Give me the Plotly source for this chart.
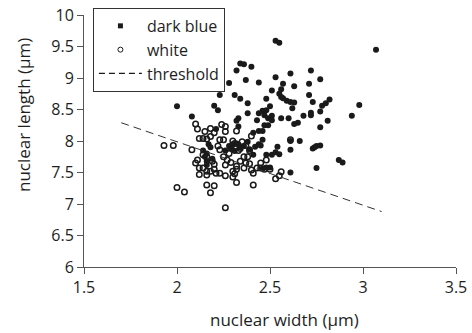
import plotly.graph_objects as go

# dark blue nuclei (filled)
dark_x = [2.00, 2.08, 2.53, 2.55, 3.07, 2.34, 2.36, 2.40, 2.32, 2.37, 2.44, 2.28,
          2.31, 2.23, 2.34, 2.38, 2.20, 2.22, 2.33, 2.32, 2.33, 2.21,
          2.48, 2.51, 2.53, 2.56, 2.57, 2.61, 2.63, 2.72, 2.77, 2.71, 2.71, 2.73,
          2.78, 2.80, 2.82, 2.77, 2.72, 2.72, 2.68, 2.65, 2.63, 2.81, 2.77, 2.98, 2.94,
          2.59, 2.61, 2.63, 2.48, 2.46, 2.50, 2.51, 2.47, 2.49, 2.56, 2.60, 2.44, 2.43,
          2.38, 2.44, 2.41, 2.46, 2.46, 2.30, 2.32, 2.28, 2.33, 2.38, 2.44, 2.45, 2.42,
          2.41, 2.48, 2.51, 2.53, 2.55, 2.54, 2.61, 2.61, 2.66, 2.73, 2.74, 2.75, 2.77,
          2.61, 2.75, 2.87, 2.89, 2.46, 2.48, 2.50,
          2.17, 2.14, 2.16, 2.15, 2.16, 2.16, 2.18, 2.19,
          2.26, 2.29, 2.31, 2.34, 2.36, 2.39, 2.47, 2.49, 2.51, 2.55, 2.56, 2.57, 2.62]
dark_y = [8.55, 8.39, 9.59, 9.56, 9.45, 9.23, 9.22, 9.18, 9.12, 8.97, 8.93, 8.92,
          8.73, 8.73, 8.67, 8.60, 8.56, 8.49, 8.36, 8.32, 8.23, 8.19,
          8.67, 8.80, 9.01, 8.82, 8.91, 9.07, 8.87, 9.12, 8.98, 8.91, 8.73, 8.62,
          8.56, 8.60, 8.66, 8.47, 8.45, 8.41, 8.40, 8.29, 8.27, 8.32, 8.22, 8.57, 8.40,
          8.64, 8.62, 8.61, 8.49, 8.48, 8.55, 8.40, 8.25, 8.25, 8.36, 8.36, 8.44, 8.33,
          8.44, 8.16, 8.13, 8.16, 8.02, 7.95, 7.96, 7.92, 7.95, 7.99, 7.95, 7.93, 7.91,
          7.78, 7.78, 7.78, 7.82, 7.79, 7.91, 7.86, 8.00, 8.00, 7.88, 7.90, 7.92, 7.93,
          7.50, 7.57, 7.70, 7.66, 7.56, 7.58, 7.58,
          7.95, 7.85, 7.80, 7.75, 7.68, 7.62, 7.90, 7.72,
          7.85, 7.88, 7.84, 7.90, 7.92, 7.87, 8.41, 8.36, 8.33, 8.75, 8.70, 8.68, 8.52]

# white nuclei (open)
white_x = [1.93, 1.98, 2.08, 2.00, 2.04, 2.26,
           2.10, 2.11, 2.12, 2.14, 2.16, 2.18,
           2.24, 2.26, 2.26, 2.23, 2.25, 2.32, 2.40, 2.61, 2.18, 2.20, 2.15,
           2.11, 2.10, 2.12, 2.14, 2.12, 2.16, 2.16, 2.20, 2.18, 2.32, 2.41,
           2.21, 2.23, 2.26, 2.30, 2.31, 2.30, 2.32, 2.32, 2.27, 2.26, 2.36, 2.37,
           2.39, 2.40, 2.41, 2.43, 2.45, 2.53, 2.56, 2.55,
           2.32, 2.33, 2.34, 2.35, 2.37, 2.30, 2.31, 2.39, 2.36, 2.38, 2.22, 2.23,
           2.14, 2.16, 2.20, 2.19, 2.16, 2.18, 2.45, 2.48, 2.28, 2.25, 2.20, 2.47,
           2.50, 2.34, 2.29]
white_y = [7.93, 7.93, 7.86, 7.26, 7.19, 6.94,
           8.27, 8.19, 8.04, 8.04, 8.03, 8.07,
           8.26, 8.23, 8.15, 8.02, 8.02, 8.16, 8.08, 8.02, 8.20, 8.13, 8.15,
           7.70, 7.65, 7.57, 7.57, 7.47, 7.46, 7.30, 7.29, 7.18, 7.34, 7.30,
           7.49, 7.49, 7.45, 7.52, 7.48, 7.43, 7.60, 7.55, 7.70, 7.62, 7.57, 7.65,
           7.64, 7.54, 7.49, 7.57, 7.57, 7.40, 7.51, 7.45,
           7.90, 7.85, 7.88, 7.99, 7.93, 8.00, 7.96, 7.85, 7.75, 7.75, 7.92, 7.86,
           7.78, 7.75, 7.63, 7.68, 7.52, 7.52, 7.65, 7.70, 7.80, 7.75, 7.55, 7.55,
           7.55, 7.68, 7.66]

# threshold line end points
thr_x = [1.70, 3.10]
thr_y = [8.29, 6.88]

x_title = "nuclear width (µm)"
y_title = "nuclear length (µm)"

FONT = "Open Sans"
TXT = "#1e1e1e"
AX = "#555555"

fig = go.Figure()
fig.add_trace(go.Scatter(x=dark_x, y=dark_y, mode="markers", name="dark blue",
                         showlegend=False,
                         marker=dict(symbol="circle", size=6, color="#1a1a1a",
                                     line=dict(width=0))))
fig.add_trace(go.Scatter(x=white_x, y=white_y, mode="markers", name="white",
                         showlegend=False,
                         marker=dict(symbol="circle-open", size=5.5, color="#1a1a1a",
                                     line=dict(width=1.5))))
fig.add_trace(go.Scatter(x=thr_x, y=thr_y, mode="lines", name="threshold",
                         showlegend=False,
                         line=dict(color="#333333", width=1, dash="8px,5px")))
# legend entries
fig.add_trace(go.Scatter(x=[None], y=[None], mode="markers", name="dark blue",
                         marker=dict(symbol="square", size=5, color="#1a1a1a")))
fig.add_trace(go.Scatter(x=[None], y=[None], mode="markers", name="white",
                         marker=dict(symbol="circle-open", size=5, color="#1a1a1a",
                                     line=dict(width=1))))
fig.add_trace(go.Scatter(x=[None], y=[None], mode="lines", name="threshold",
                         line=dict(color="#1a1a1a", width=1.3, dash="6px,4px")))

axis_common = dict(showgrid=False, zeroline=False, showline=True, linecolor=AX,
                   linewidth=1, ticks="outside", ticklen=6, tickcolor=AX,
                   tickfont=dict(family=FONT, size=16, color=TXT), dtick=0.5,
                   mirror=False)

fig.update_layout(
    width=472, height=333,
    margin=dict(l=84, r=16, t=15, b=66, autoexpand=False),
    paper_bgcolor="white", plot_bgcolor="white",
    font=dict(family=FONT, color=TXT),
    xaxis=dict(range=[1.5, 3.5], tick0=1.5, **axis_common),
    yaxis=dict(range=[6, 10], tick0=6, **axis_common),
    legend=dict(x=0.024, y=1.028, xanchor="left", yanchor="top",
                bordercolor="#333333", borderwidth=1, bgcolor="white",
                font=dict(family=FONT, size=16, color=TXT),
                itemwidth=43, tracegroupgap=0),
    annotations=[
        dict(text=x_title, xref="paper", yref="paper", x=0.54, y=-0.21,
             xanchor="center", yanchor="middle", showarrow=False,
             font=dict(family=FONT, size=17, color=TXT)),
        dict(text=y_title, xref="paper", yref="paper", x=-0.164, y=0.603,
             xanchor="center", yanchor="middle", showarrow=False, textangle=-90,
             font=dict(family=FONT, size=17, color=TXT)),
    ],
)

fig.write_html("out.html")
